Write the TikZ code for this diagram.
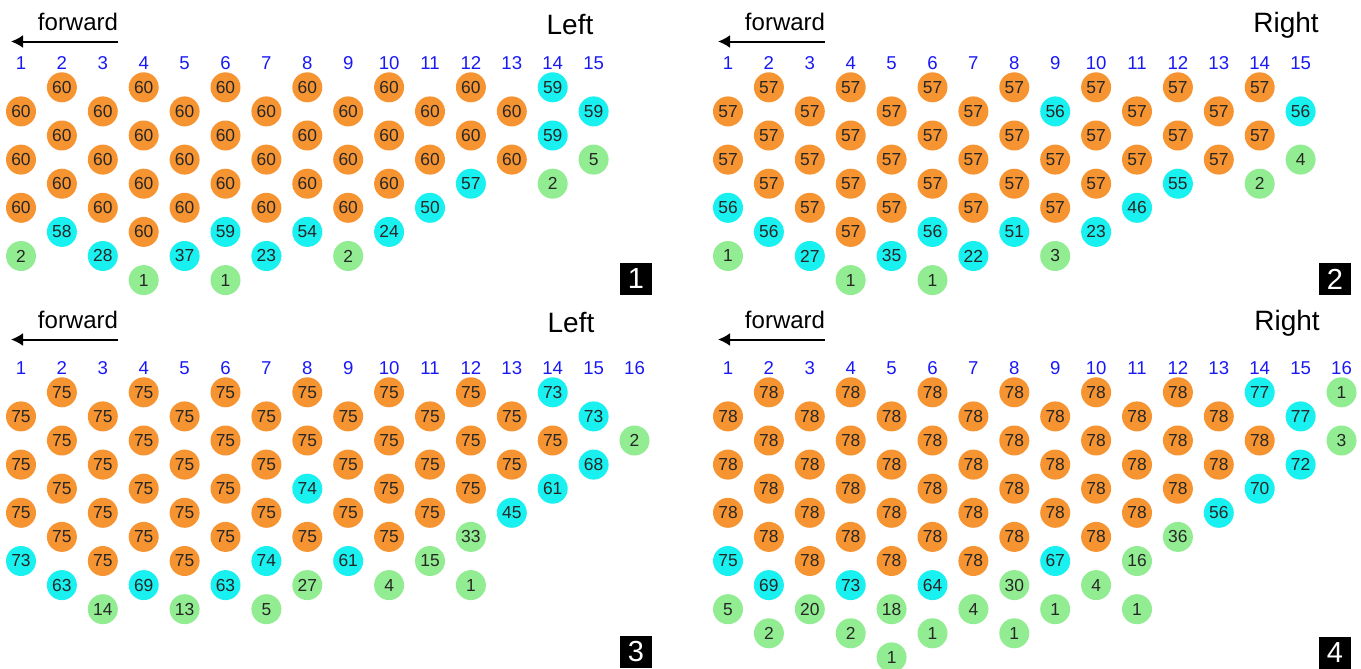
\documentclass[tikz,border=0pt]{standalone}
\usepackage{fontspec}
\setmainfont{Liberation Sans}
\usepackage{xcolor}
\usepackage{tikz}
\usetikzlibrary{arrows.meta}

\definecolor{ballorange}{RGB}{247,148,50}
\definecolor{ballcyan}{RGB}{25,240,240}
\definecolor{ballgreen}{RGB}{146,236,146}
\definecolor{colblue}{RGB}{25,25,245}

% #1 name, #2/#3 origin (px), #4 columns, #5 column/first row/values
\newcommand{\ballpanel}[5]{%
  \foreach \c in {1,...,#4}
    \node[colnum] (#1-h\c) at ({#2+21+40.9*(\c-1)}, #3+63) {\c};
  \foreach \c/\kz/\vals in {#5} {
    \foreach \v/\s [count=\i from 0] in \vals
      \node[ball, \s] (#1-\c-\i) at ({#2+21+40.9*(\c-1)}, {#3+87.3+24.1*(\kz+2*\i)}) {\v};
  }
}

\begin{document}
\begin{tikzpicture}[x=0.5pt, y=-0.5pt,
    ball/.style={circle, minimum size=15pt, inner sep=0pt, text=black!85,
      font=\fontsize{8.7}{10}\selectfont},
    ob/.style={fill=ballorange}, cb/.style={fill=ballcyan}, gb/.style={fill=ballgreen},
    colnum/.style={text=colblue, font=\fontsize{9.3}{10}\selectfont},
    fwd/.style={font=\fontsize{12}{14}\selectfont},
    side/.style={font=\fontsize{14}{16}\selectfont},
    numbox/.style={fill=black, text=white, minimum size=16pt, inner sep=0pt,
      font=\fontsize{14.5}{16}\selectfont}]
  \useasboundingbox (0,0) rectangle (1361,669);

  % headers: forward arrow, side, panel number
  \foreach \p/\hx/\hy/\ttl/\tx/\ty/\bx/\by in {1/0/0/Left/570/25/636/279,
      2/707/0/Right/1286/25/1335/279, 3/0/298/Left/571/323/636/652,
      4/707/298/Right/1287/323/1335/653} {
    \node[fwd] (fw\p) at (\hx+78, \hy+22) {forward};
    \coordinate (fa\p) at (\hx+118, \hy+41.5);
    \coordinate (fb\p) at (\hx+11, \hy+41.5);
    \draw[line width=1pt, -{Latex[length=6pt, width=6.5pt]}] (fa\p) -- (fb\p);
    \node[side] (side\p) at (\tx, \ty) {\ttl};
    \node[numbox] (box\p) at (\bx, \by) {\p};
  }

  \ballpanel{p1}{0}{0}{15}{
    1/1/{60/ob,60/ob,60/ob,2/gb}, 2/0/{60/ob,60/ob,60/ob,58/cb},
    3/1/{60/ob,60/ob,60/ob,28/cb}, 4/0/{60/ob,60/ob,60/ob,60/ob,1/gb},
    5/1/{60/ob,60/ob,60/ob,37/cb}, 6/0/{60/ob,60/ob,60/ob,59/cb,1/gb},
    7/1/{60/ob,60/ob,60/ob,23/cb}, 8/0/{60/ob,60/ob,60/ob,54/cb},
    9/1/{60/ob,60/ob,60/ob,2/gb}, 10/0/{60/ob,60/ob,60/ob,24/cb},
    11/1/{60/ob,60/ob,50/cb}, 12/0/{60/ob,60/ob,57/cb},
    13/1/{60/ob,60/ob}, 14/0/{59/cb,59/cb,2/gb}, 15/1/{59/cb,5/gb}}

  \ballpanel{p2}{707}{0}{15}{
    1/1/{57/ob,57/ob,56/cb,1/gb}, 2/0/{57/ob,57/ob,57/ob,56/cb},
    3/1/{57/ob,57/ob,57/ob,27/cb}, 4/0/{57/ob,57/ob,57/ob,57/ob,1/gb},
    5/1/{57/ob,57/ob,57/ob,35/cb}, 6/0/{57/ob,57/ob,57/ob,56/cb,1/gb},
    7/1/{57/ob,57/ob,57/ob,22/cb}, 8/0/{57/ob,57/ob,57/ob,51/cb},
    9/1/{56/cb,57/ob,57/ob,3/gb}, 10/0/{57/ob,57/ob,57/ob,23/cb},
    11/1/{57/ob,57/ob,46/cb}, 12/0/{57/ob,57/ob,55/cb},
    13/1/{57/ob,57/ob}, 14/0/{57/ob,57/ob,2/gb}, 15/1/{56/cb,4/gb}}

  \ballpanel{p3}{0}{305}{16}{
    1/1/{75/ob,75/ob,75/ob,73/cb}, 2/0/{75/ob,75/ob,75/ob,75/ob,63/cb},
    3/1/{75/ob,75/ob,75/ob,75/ob,14/gb}, 4/0/{75/ob,75/ob,75/ob,75/ob,69/cb},
    5/1/{75/ob,75/ob,75/ob,75/ob,13/gb}, 6/0/{75/ob,75/ob,75/ob,75/ob,63/cb},
    7/1/{75/ob,75/ob,75/ob,74/cb,5/gb}, 8/0/{75/ob,75/ob,74/cb,75/ob,27/gb},
    9/1/{75/ob,75/ob,75/ob,61/cb}, 10/0/{75/ob,75/ob,75/ob,75/ob,4/gb},
    11/1/{75/ob,75/ob,75/ob,15/gb}, 12/0/{75/ob,75/ob,75/ob,33/gb,1/gb},
    13/1/{75/ob,75/ob,45/cb}, 14/0/{73/cb,75/ob,61/cb},
    15/1/{73/cb,68/cb}, 16/2/{2/gb}}

  \ballpanel{p4}{707}{305}{16}{
    1/1/{78/ob,78/ob,78/ob,75/cb,5/gb}, 2/0/{78/ob,78/ob,78/ob,78/ob,69/cb,2/gb},
    3/1/{78/ob,78/ob,78/ob,78/ob,20/gb}, 4/0/{78/ob,78/ob,78/ob,78/ob,73/cb,2/gb},
    5/1/{78/ob,78/ob,78/ob,78/ob,18/gb,1/gb}, 6/0/{78/ob,78/ob,78/ob,78/ob,64/cb,1/gb},
    7/1/{78/ob,78/ob,78/ob,78/ob,4/gb}, 8/0/{78/ob,78/ob,78/ob,78/ob,30/gb,1/gb},
    9/1/{78/ob,78/ob,78/ob,67/cb,1/gb}, 10/0/{78/ob,78/ob,78/ob,78/ob,4/gb},
    11/1/{78/ob,78/ob,78/ob,16/gb,1/gb}, 12/0/{78/ob,78/ob,78/ob,36/gb},
    13/1/{78/ob,78/ob,56/cb}, 14/0/{77/cb,78/ob,70/cb},
    15/1/{77/cb,72/cb}, 16/0/{1/gb,3/gb}}
\end{tikzpicture}
\end{document}
